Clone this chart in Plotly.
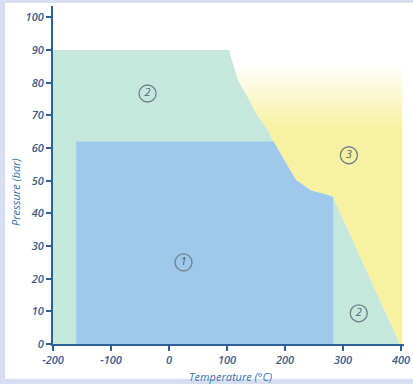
import plotly.graph_objects as go

# Boundary curve between regions (Temperature °C, Pressure bar)
curve_T = [103, 119, 136, 150, 171, 181, 202, 219, 245, 274, 283]
curve_P = [90, 80.7, 75.5, 70.6, 65.4, 61.8, 55.3, 50.2, 47.0, 45.6, 45.0]

# Region 2 outer limits
region2_T_left = -200
region2_P_top = 90
region2_T_end = 398

# Region 1 limits
region1_T_left = -160
region1_T_right = 283
region1_P_top = 62
region1_T_top_end = 180

# Region 3 right limit
region3_T_right = 402

# Circled labels
label_text = ["2", "1", "3", "2"]
label_T = [-37, 25, 310, 327]
label_P = [76.7, 25, 57.8, 9.4]

x_ticks = [-200, -100, 0, 100, 200, 300, 400]
y_ticks = [0, 10, 20, 30, 40, 50, 60, 70, 80, 90, 100]

GREEN = "#c6e8dc"
BLUE = "#9fc9ec"
AXIS = "#2f5f9a"
TICKTXT = "#3e5a88"
TITLE = "#3a70b0"

fig = go.Figure()

# Region 2 (green)
g_x = [region2_T_left, region2_T_left] + curve_T + [region2_T_end, region2_T_left]
g_y = [0, region2_P_top] + curve_P + [0, 0]
fig.add_trace(go.Scatter(x=g_x, y=g_y, fill="toself", fillcolor=GREEN,
                         mode="none", hoverinfo="skip", showlegend=False))

# Region 3 (yellow, fading upwards)
y_x = curve_T + [region2_T_end, region3_T_right, region3_T_right, curve_T[0]]
y_y = curve_P + [0, 0, region2_P_top, region2_P_top]
fig.add_trace(go.Scatter(
    x=y_x, y=y_y, fill="toself", mode="none", hoverinfo="skip", showlegend=False,
    fillgradient=dict(type="vertical", start=66, stop=86,
                      colorscale=[[0, "rgba(248,241,162,1)"],
                                  [1, "rgba(248,241,162,0)"]])))

# Region 1 (blue): rectangle cut by the boundary curve
cut_T = [t for t, p in zip(curve_T, curve_P) if p < region1_P_top]
cut_P = [p for p in curve_P if p < region1_P_top]
b_x = [region1_T_left, region1_T_left, region1_T_top_end] + cut_T + [region1_T_right, region1_T_left]
b_y = [0, region1_P_top, region1_P_top] + cut_P + [0, 0]
fig.add_trace(go.Scatter(x=b_x, y=b_y, fill="toself", fillcolor=BLUE,
                         mode="none", hoverinfo="skip", showlegend=False))

# Circled labels
fig.add_trace(go.Scatter(
    x=label_T, y=label_P, mode="markers+text", text=label_text,
    textposition="middle center",
    textfont=dict(family="Open Sans", size=11, color="#4a6478", style="italic"),
    marker=dict(symbol="circle-open", size=17,
                line=dict(color="#6f8088", width=1.3), color="#6f8088"),
    hoverinfo="skip", showlegend=False))

tickfont = dict(family="Open Sans", size=11, color=TICKTXT, style="italic", weight=600)

fig.update_layout(
    width=413, height=384,
    margin=dict(l=53, r=9, t=6, b=40, autoexpand=False),
    paper_bgcolor="white", plot_bgcolor="white",
    font=dict(family="Open Sans", color=TICKTXT),
    xaxis=dict(range=[-200, 405], tickvals=x_ticks, ticktext=[str(v) for v in x_ticks],
               showgrid=False, zeroline=False, showline=True, linecolor=AXIS,
               linewidth=2, ticks="outside", ticklen=5, tickcolor=AXIS, tickwidth=1.5,
               automargin=False, tickfont=tickfont),
    yaxis=dict(range=[0, 103.5], tickvals=y_ticks, ticktext=[str(v) for v in y_ticks],
               showgrid=False, zeroline=False, showline=True, linecolor=AXIS,
               linewidth=2, ticks="outside", ticklen=5, tickcolor=AXIS, tickwidth=1.5,
               automargin=False, tickfont=tickfont),
)

W_plot = 413 - 53 - 9
H_plot = 384 - 6 - 40
def px_x(p):
    return (p - 53) / W_plot
def px_y(p):
    return (384 - 40 - p) / H_plot

fig.add_annotation(text="Temperature (°C)", xref="paper", yref="paper",
                   x=px_x(230), y=px_y(376), xanchor="center", yanchor="middle",
                   showarrow=False,
                   font=dict(size=11, color=TITLE, style="italic"))
fig.add_annotation(text="Pressure (bar)", xref="paper", yref="paper",
                   x=px_x(16), y=px_y(192), xanchor="center", yanchor="middle",
                   showarrow=False, textangle=-90,
                   font=dict(size=11, color=TITLE, style="italic"))

# lavender frame
frame = "#d8def2"
fig.add_shape(type="rect", xref="paper", yref="paper",
              x0=px_x(0), x1=px_x(5), y0=px_y(384), y1=px_y(0),
              line=dict(width=0), fillcolor=frame, layer="above")
fig.add_shape(type="rect", xref="paper", yref="paper",
              x0=px_x(0), x1=px_x(413), y0=px_y(3), y1=px_y(0),
              line=dict(width=0), fillcolor=frame, layer="above")
fig.add_shape(type="rect", xref="paper", yref="paper",
              x0=px_x(0), x1=px_x(413), y0=px_y(384), y1=px_y(379),
              line=dict(width=0), fillcolor=frame, layer="above")

fig.write_html("out.html", config={"displayModeBar": False},
               post_script="document.body.style.margin='0px';")
